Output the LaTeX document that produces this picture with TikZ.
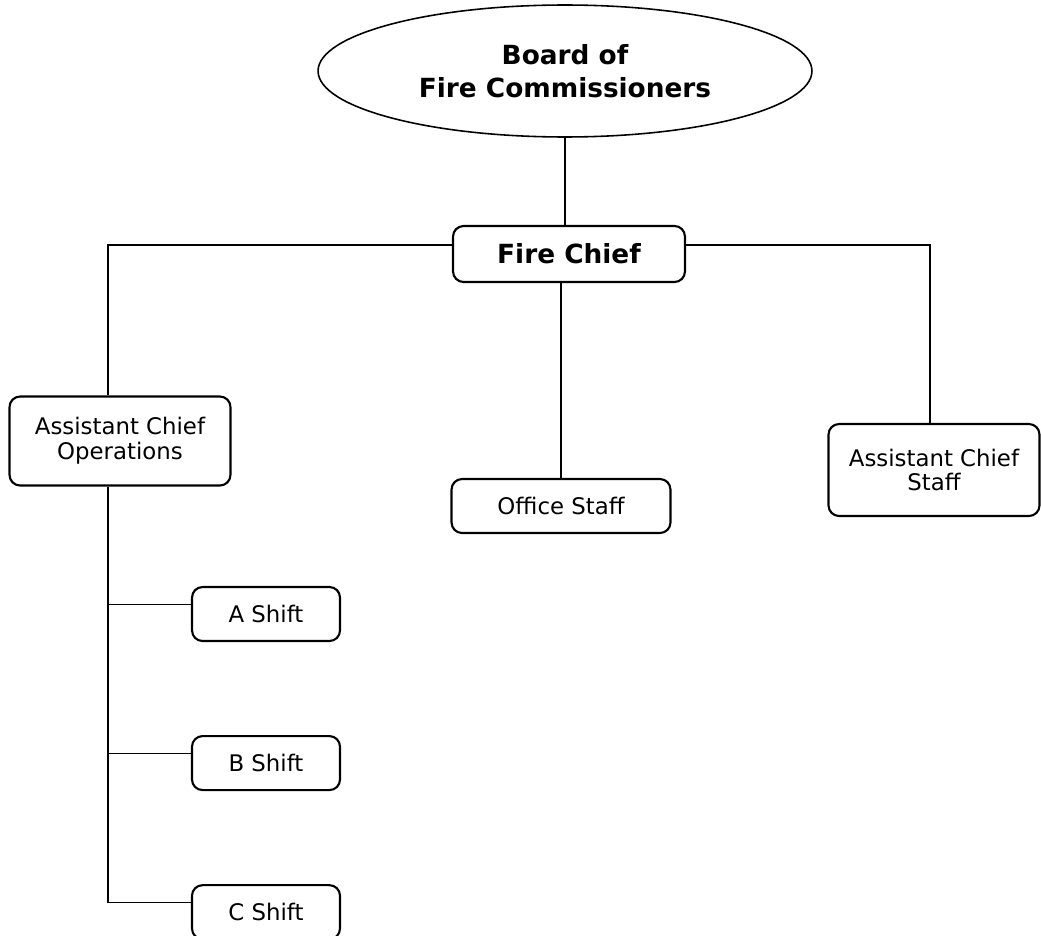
\documentclass[tikz,border=0pt]{standalone}
\usepackage{fontspec}
\setmainfont{DejaVu Sans}
\usetikzlibrary{shapes.geometric, positioning}

\begin{document}
\begin{tikzpicture}[x=0.02cm, y=-0.02cm, line width=0.9pt,
    box/.style={draw, line width=1.2pt, rounded corners=6pt, align=center, inner sep=0pt, font=\fontsize{13}{14.2}\selectfont},
    bigbox/.style={box, font=\fontsize{15}{18.7}\selectfont\bfseries}]
        \useasboundingbox (0,0) rectangle (1041,936);

        % Nodes
        \node[draw, ellipse, inner sep=0pt, minimum width=9.88cm, minimum height=2.64cm, align=center, font=\fontsize{15}{18.7}\selectfont\bfseries] (board) at (565,71) {Board of\\Fire Commissioners};
        \node[bigbox, minimum width=4.64cm, minimum height=1.12cm] (chief) at (569,254) {Fire Chief};
        \node[box, minimum width=4.42cm, minimum height=1.78cm] (acops) at (120,441) {Assistant Chief\\Operations};
        \node[box, minimum width=4.38cm, minimum height=1.08cm] (office) at (561,506) {Office Staff};
        \node[box, minimum width=4.22cm, minimum height=1.84cm] (acstaff) at (934,470) {Assistant Chief\\Staff};
        \node[box, minimum width=2.96cm, minimum height=1.08cm] (ashift) at (266,614) {A Shift};
        \node[box, minimum width=2.96cm, minimum height=1.08cm, below=1.86cm of ashift] (bshift) {B Shift};
        \node[box, minimum width=2.96cm, minimum height=1.08cm, below=1.86cm of bshift] (cshift) {C Shift};

        % Lines
        \coordinate (barL) at (108,245);
        \coordinate (barR) at (930,245);
        \coordinate (ain) at ([yshift=5.4pt]ashift.west);
        \coordinate (bin) at ([yshift=5.4pt]bshift.west);
        \coordinate (cin) at ([yshift=5.4pt]cshift.west);
        \draw (board.south) -- (board.south |- chief.north);
        \draw (chief.west |- barL) -- (barL) -- (barL |- acops.north);
        \draw (chief.east |- barR) -- (barR) -- (barR |- acstaff.north);
        \draw (chief.south -| office.north) -- (office.north);
        \draw (barL |- acops.south) -- (barL |- cin) -- (cin);
        \draw (barL |- ain) -- (ain);
        \draw (barL |- bin) -- (bin);
    \end{tikzpicture}
\end{document}
